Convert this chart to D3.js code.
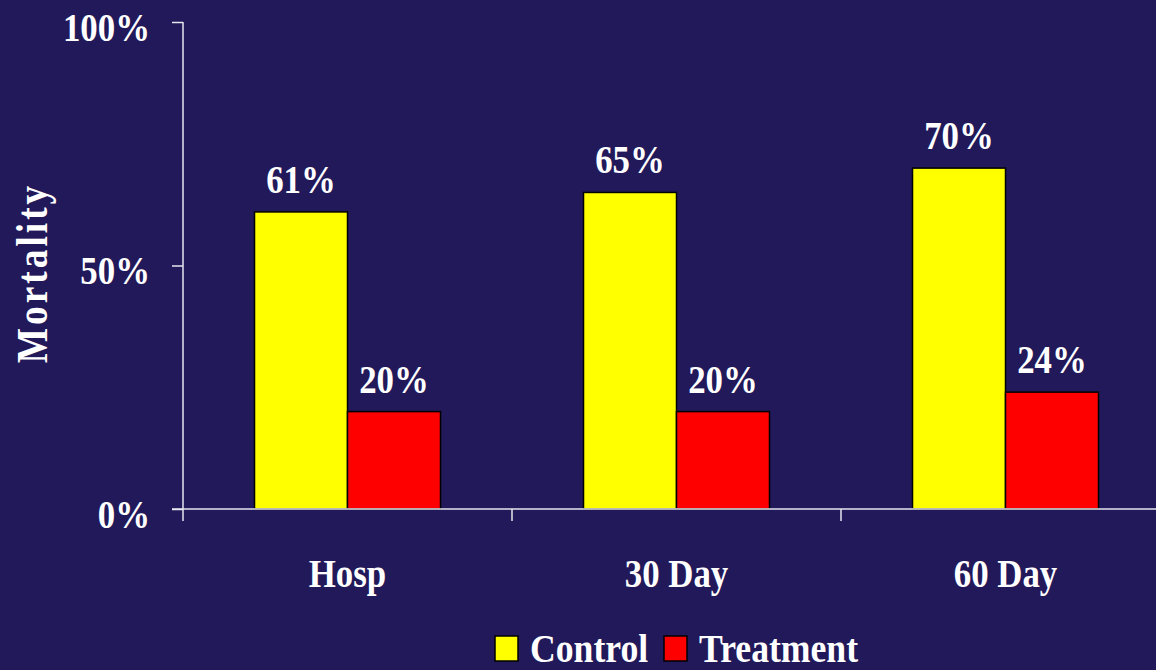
<!DOCTYPE html>
<html>
<head>
<meta charset="utf-8">
<script src="https://cdn.jsdelivr.net/npm/d3@7"></script>
<style>
  html, body { margin: 0; padding: 0; background: #22195a; }
  svg { display: block; }
  text { font-family: "Liberation Serif", "Times New Roman", serif; font-weight: bold; fill: #ffffff; }
</style>
</head>
<body>
<svg id="chart" width="1156" height="670"></svg>
<script>
// Mortality by follow-up period, control vs treatment
const categories = ["Hosp", "30 Day", "60 Day"];
const seriesNames = ["Control", "Treatment"];
const controlValues = [61, 65, 70];
const treatmentValues = [20, 20, 24];
const yTicks = [0, 50, 100];
const seriesColors = ["#ffff00", "#ff0000"];

const W = 1156, H = 670;
const FONT = 41;      // label font size
const SX = 0.85;      // condensed glyph width
const svg = d3.select("#chart");

svg.append("rect").attr("width", W).attr("height", H).attr("fill", "#22195a");

const x = d3.scaleBand()
  .domain(categories)
  .range([183, 183 + 329 * categories.length])
  .paddingInner(0)
  .paddingOuter(0);

const inner = d3.scaleBand()
  .domain(seriesNames)
  .range([0, x.bandwidth()])
  .paddingOuter(0.769)
  .paddingInner(0);

const y = d3.scaleLinear().domain([0, 100]).range([509, 22]);

const rows = categories.map((c, i) => ({
  cat: c,
  vals: [
    { s: seriesNames[0], v: controlValues[i], color: seriesColors[0] },
    { s: seriesNames[1], v: treatmentValues[i], color: seriesColors[1] }
  ]
}));

// condensed text placed at (px, py)
function label(sel, px, py, sx) {
  return sel.attr("transform", `translate(${px},${py}) scale(${sx},1)`);
}

// bars
const groups = svg.append("g").selectAll("g")
  .data(rows).join("g")
  .attr("transform", d => `translate(${x(d.cat)},0)`);

groups.selectAll("rect")
  .data(d => d.vals).join("rect")
  .attr("x", d => inner(d.s))
  .attr("y", d => y(d.v))
  .attr("width", inner.bandwidth())
  .attr("height", d => y(0) - y(d.v))
  .attr("fill", d => d.color)
  .attr("stroke", "#000")
  .attr("stroke-width", 1.5);

groups.selectAll("text.val")
  .data(d => d.vals).join("text")
  .attr("class", "val")
  .attr("text-anchor", "middle")
  .attr("font-size", FONT)
  .attr("transform", d => `translate(${inner(d.s) + inner.bandwidth() / 2},${y(d.v) - 19}) scale(${SX},1)`)
  .text(d => d.v + "%");

// y axis
const yAxis = d3.axisLeft(y)
  .tickValues(yTicks)
  .tickSize(11)
  .tickPadding(0)
  .tickFormat(d => d + "%");
const yg = svg.append("g").attr("transform", "translate(183,0)").call(yAxis);
yg.select(".domain").attr("stroke", "#e6e6ee").attr("stroke-width", 1.5).attr("d", `M0,${y(100)}V${y(0)}`);
yg.selectAll(".tick line").attr("stroke", "#e6e6ee").attr("stroke-width", 1.5);
yg.selectAll(".tick text")
  .attr("x", null).attr("dy", null)
  .attr("transform", `translate(-33,18) scale(${SX},1)`)
  .attr("font-size", FONT)
  .attr("fill", "#fff")
  .style("font-family", "'Liberation Serif', serif")
  .style("font-weight", "bold");

// x axis
const xAxis = d3.axisBottom(x).tickSize(0).tickFormat("");
const xg = svg.append("g").attr("transform", `translate(0,${y(0)})`).call(xAxis);
xg.select(".domain").attr("stroke", "#e6e6ee").attr("stroke-width", 1.5)
  .attr("d", `M172,0H${W}`);
xg.selectAll(".tick").remove();

// category boundary ticks
xg.selectAll("line.bound")
  .data(categories).join("line")
  .attr("class", "bound")
  .attr("x1", d => x(d)).attr("x2", d => x(d))
  .attr("y1", 0).attr("y2", 12)
  .attr("stroke", "#e6e6ee").attr("stroke-width", 1.5);

svg.append("g").selectAll("text")
  .data(categories).join("text")
  .attr("text-anchor", "middle")
  .attr("font-size", FONT)
  .attr("transform", d => `translate(${x(d) + x.bandwidth() / 2},587) scale(${SX},1)`)
  .text(d => d);

// y axis title
svg.append("text")
  .attr("transform", `translate(47,273) rotate(-90) scale(${SX},1)`)
  .attr("text-anchor", "middle")
  .attr("font-size", 44)
  .attr("letter-spacing", 3.5)
  .text("Mortality");

// legend
const legendItems = [
  { name: seriesNames[0], color: seriesColors[0], x: 495 },
  { name: seriesNames[1], color: seriesColors[1], x: 664 }
];
const lg = svg.append("g").selectAll("g").data(legendItems).join("g")
  .attr("transform", d => `translate(${d.x},636)`);
lg.append("rect")
  .attr("width", 23).attr("height", 25)
  .attr("fill", d => d.color)
  .attr("stroke", "#000").attr("stroke-width", 1.5);
lg.append("text")
  .attr("transform", `translate(35,26) scale(0.87,1)`)
  .attr("font-size", FONT)
  .text(d => d.name);
</script>
</body>
</html>
